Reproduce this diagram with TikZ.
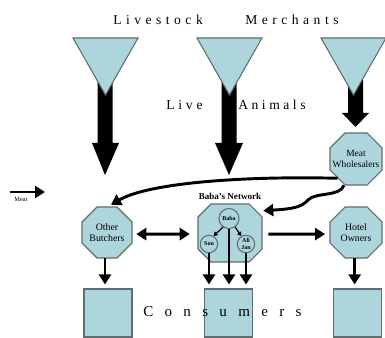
\documentclass[tikz,border=0pt]{standalone}
\usepackage{fontspec}
\setmainfont{Liberation Serif}
\usetikzlibrary{arrows.meta}
\definecolor{fillb}{RGB}{172,214,219}
\definecolor{edgec}{RGB}{95,110,112}
% octagon outline: centre x, centre y, half width, half height, chamfer (all in px)
\newcommand{\myoct}[5]{%
  \draw[octfill] ({#1-#3},{#2-#4+#5}) -- ({#1-#3+#5},{#2-#4}) -- ({#1+#3-#5},{#2-#4}) -- ({#1+#3},{#2-#4+#5})
    -- ({#1+#3},{#2+#4-#5}) -- ({#1+#3-#5},{#2+#4}) -- ({#1-#3+#5},{#2+#4}) -- ({#1-#3},{#2+#4-#5}) -- cycle;}
\begin{document}
\begin{tikzpicture}[x=0.75pt,y=-0.75pt,
  funnel/.style={fill=fillb,draw=edgec,line width=0.8pt},
  bigarrow/.style={fill=black},
  octfill/.style={fill=fillb, draw=edgec, line width=0.8pt},
  octtext/.style={rectangle, inner sep=0pt, align=center, font=\fontsize{7.4}{8.6}\selectfont},
  circ/.style={circle, fill=fillb, draw=edgec, line width=0.8pt, inner sep=0pt, minimum size=13pt,
    align=center, font=\bfseries\fontsize{4.5}{4.8}\selectfont},
  sq/.style={rectangle, fill=fillb, draw=edgec, line width=0.8pt, minimum size=36pt, inner sep=0pt},
  conn/.style={line width=2.2pt, -{Triangle[length=7.5pt,width=9pt]}},
  dbl/.style={line width=2.2pt, {Triangle[length=7.5pt,width=9pt]}-{Triangle[length=7.5pt,width=9pt]}},
  small/.style={line width=0.9pt, -{Triangle[length=3pt,width=3.5pt]}},
  spaced/.style={inner sep=0pt, anchor=base west, font=\fontsize{10.2}{12}\selectfont\addfontfeatures{LetterSpace=33}},
  spacedbig/.style={inner sep=0pt, anchor=base west, font=\fontsize{11.3}{13}\selectfont\addfontfeatures{LetterSpace=75}}
]
\useasboundingbox (0,0) rectangle (385,338);
\fill[white] (0,0) rectangle (385,338);

% thick arrows (behind funnels)
\fill[bigarrow] (97.5,80) -- (112.5,80) -- (112.5,143) -- (119,143) -- (105,175) -- (92,143) -- (97.5,143) -- cycle;
\fill[bigarrow] (221.5,80) -- (236.5,80) -- (236.5,143) -- (243,143) -- (229,175) -- (215,143) -- (221.5,143) -- cycle;
\fill[bigarrow] (348,80) -- (363,80) -- (363,113) -- (369,113) -- (355.5,127) -- (342,113) -- (348,113) -- cycle;

% funnels
\draw[funnel] (73,38) -- (138,38) -- (105.5,95) -- cycle;
\draw[funnel] (197,38) -- (262,38) -- (229.5,95) -- cycle;
\draw[funnel] (321,38) -- (386,38) -- (353.5,95) -- cycle;

% titles
\node[spaced] (t1) at (113,25) {Livestock};
\node[spaced] (t2) at (245,25) {Merchants};
\node[spaced, font=\fontsize{10.2}{12}\selectfont\addfontfeatures{LetterSpace=28}] (t3) at (166,110) {Live};
\node[spaced, font=\fontsize{10.2}{12}\selectfont\addfontfeatures{LetterSpace=26}] (t4) at (238,110) {Animals};

% octagons
\myoct{356}{159}{26}{26}{15}
\myoct{107}{232.5}{25}{25.5}{15}
\myoct{230}{233}{32}{29}{13}
\myoct{356}{232.5}{26}{25.5}{15}
\node[octtext, minimum width=39pt, minimum height=39pt, font=\fontsize{7.1}{8.4}\selectfont] (whole) at (356,159) {Meat\\Wholesalers};
\node[octtext, minimum width=37.5pt, minimum height=38.2pt] (butch) at (107,232.5) {Other\\Butchers};
\node[octtext, minimum width=48pt, minimum height=43.5pt] (baba) at (230,233) {};
\node[octtext, minimum width=39pt, minimum height=38.2pt] (hotel) at (356,232.5) {Hotel\\Owners};
\node[inner sep=0pt, font=\bfseries\fontsize{6.8}{8}\selectfont] (bn) at (230,196) {Baba's Network};

% circles
\node[circ, minimum size=15pt] (bb) at (229,218.5) {Baba};
\node[circ] (son) at (209,244) {Son};
\node[circ] (ali) at (246,244) {Ali\\Jan};
\draw[small] (bb.235) -- (son.60);
\draw[small] (bb.305) -- (ali.120);

% consumers squares
\node[sq] (c1) at (108,313) {};
\node[sq] (c2) at (228.5,313) {};
\node[sq] (c3) at (357.5,313) {};
\node[spacedbig] (cons) at (143,316) {Consumers};

% connectors
\draw[dbl] ([xshift=3pt,yshift=-1.2pt]butch.east) -- ([xshift=-6pt,yshift=-0.8pt]baba.west);
\draw[conn] ([xshift=4.5pt,yshift=-0.8pt]baba.east) -- ([xshift=-3.5pt,yshift=-1.2pt]hotel.west);
\draw[conn, shorten >=3pt] ([xshift=-1.5pt]butch.south) -- ([xshift=-1.5pt]butch.south |- c1.north);
\draw[conn, shorten >=3pt] ([xshift=-1pt]hotel.south) -- ([xshift=-1pt]hotel.south |- c3.north);
\draw[conn, shorten >=3pt] (son.south) -- (son.south |- c2.north);
\draw[conn, shorten >=3pt] (bb.south) -- (bb.south |- c2.north);
\draw[conn, shorten >=3pt] (ali.south) -- (ali.south |- c2.north);

% curved connectors from wholesalers
\draw[conn] ([shift={(8,-7)}]whole.south west) .. controls (250,176) and (150,182) .. ([shift={(4,-2)}]butch.north);
\draw[conn] ([xshift=-9pt]whole.south) .. controls (340,197) and (315,192) .. (308,200) .. controls (301,208) and (290,209) .. ([shift={(1,7)}]baba.north east);

% legend
\coordinate (m1) at (10,192);
\coordinate (m2) at (45,192);
\draw[conn] (m1) -- (m2);
\node[inner sep=0pt, font=\fontsize{4.8}{5.5}\selectfont] (meat) at (21,199) {Meat};
\end{tikzpicture}
\end{document}
